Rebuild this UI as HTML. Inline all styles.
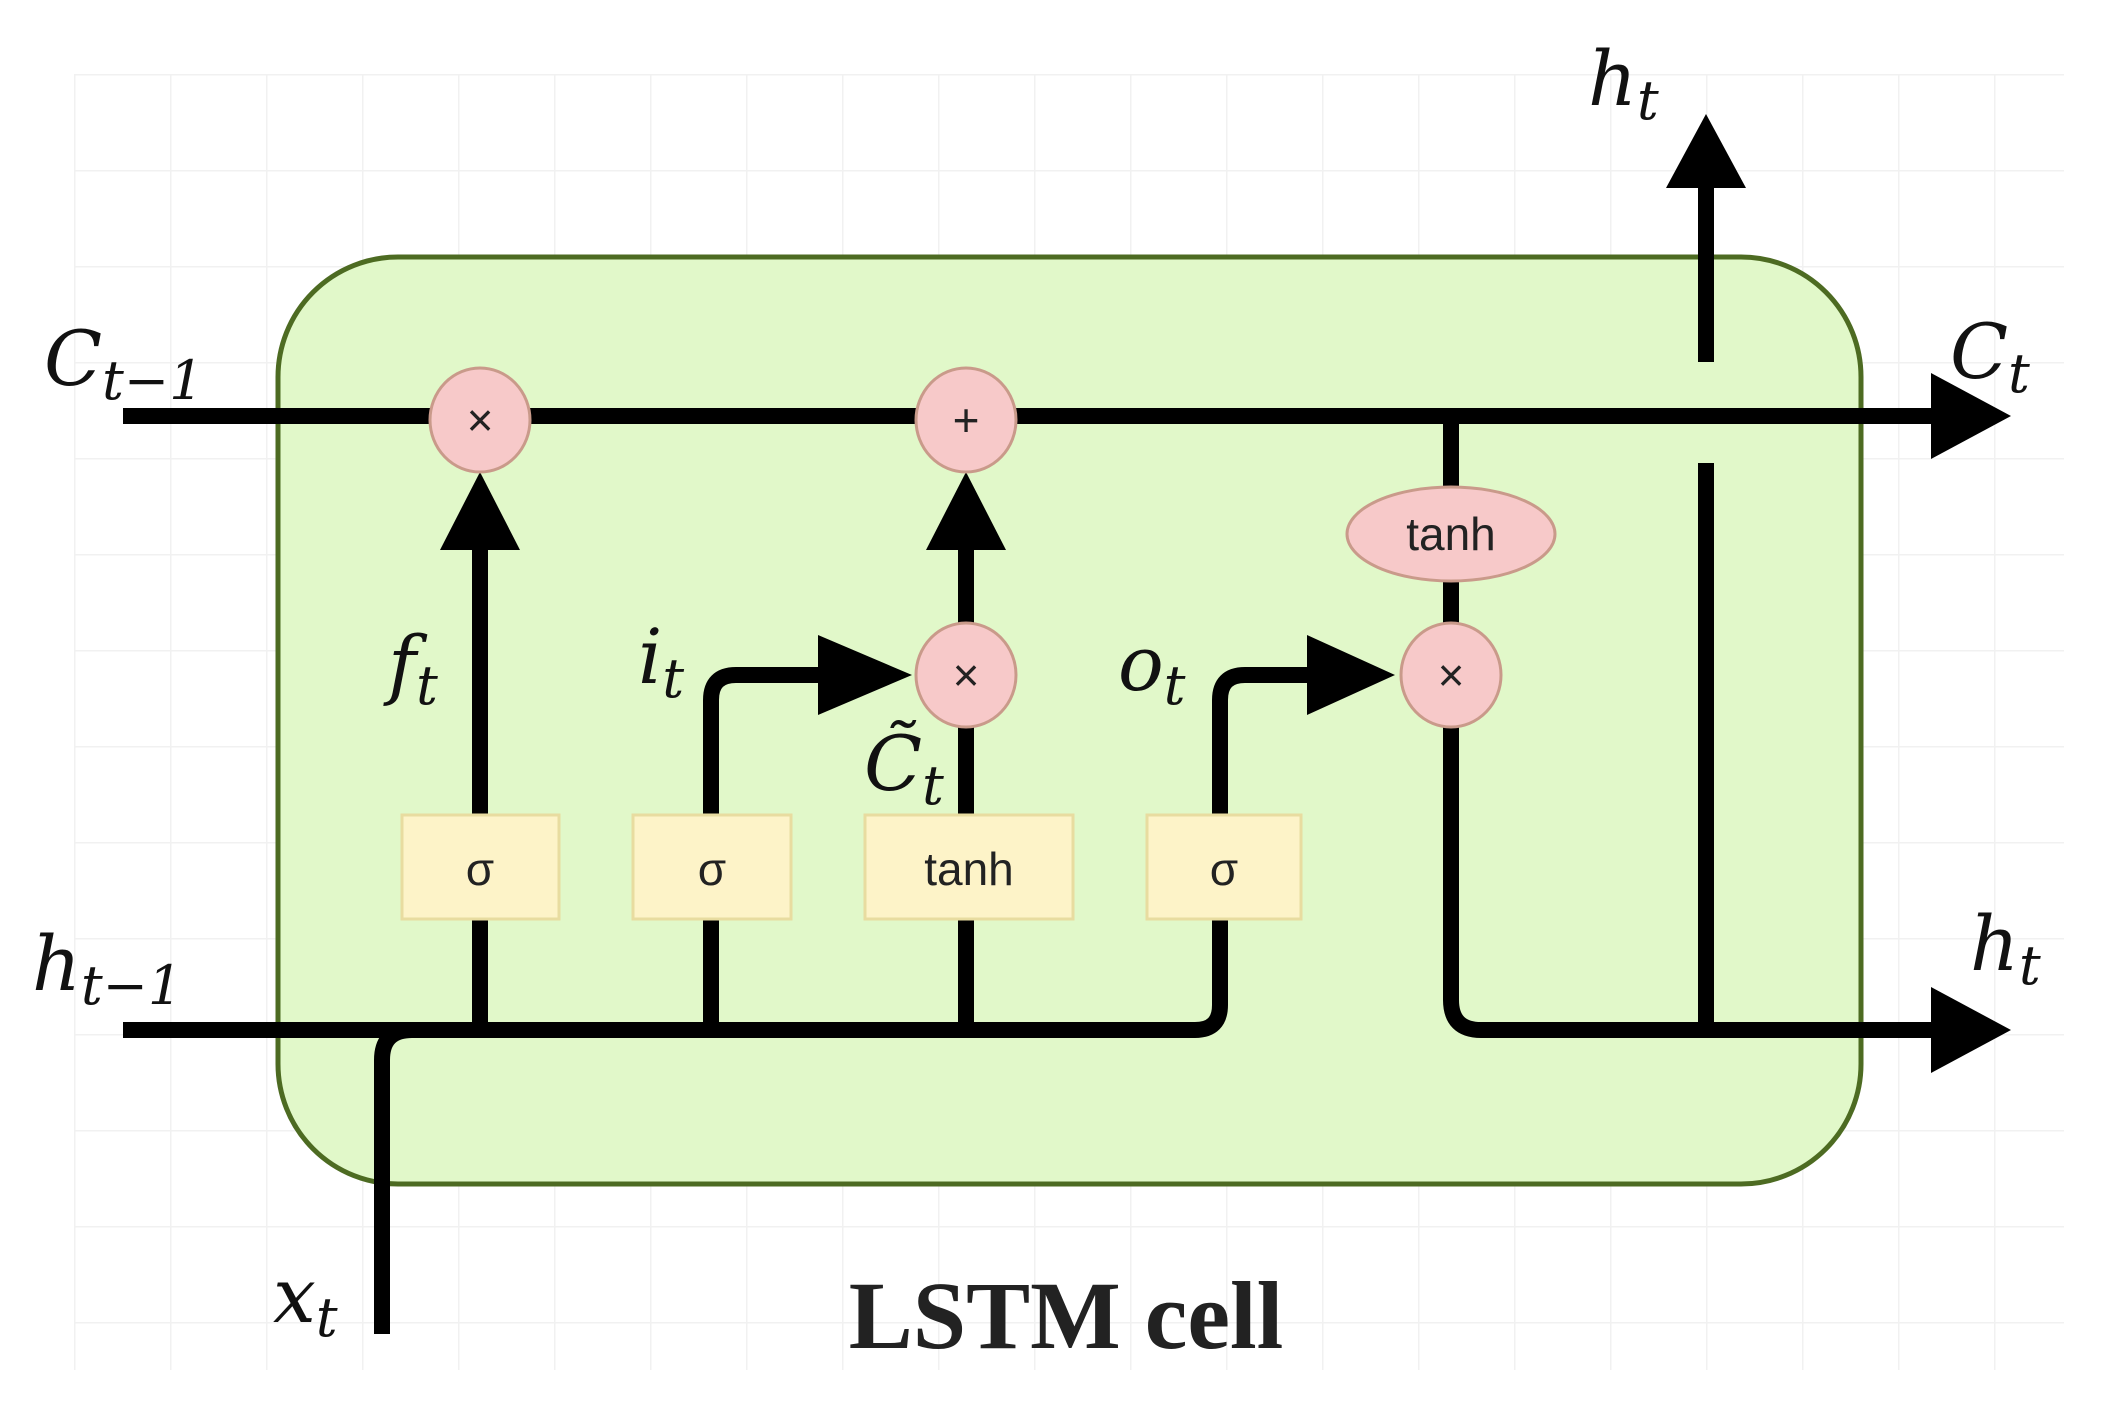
<!DOCTYPE html>
<html><head><meta charset="utf-8"><style>
html,body{margin:0;padding:0;background:#fff;}
svg{display:block;}
.m{font-family:"DejaVu Serif","Liberation Serif",serif;font-style:italic;fill:#111;}
.s{font-family:"Liberation Sans",sans-serif;fill:#222;}
</style></head><body>
<svg width="2103" height="1416" viewBox="0 0 2103 1416" xmlns="http://www.w3.org/2000/svg">
<defs>
<pattern id="g" width="96" height="96" patternUnits="userSpaceOnUse" x="74" y="74">
<path d="M0 0H96M0 0V96" stroke="#f1f1f1" stroke-width="3" fill="none"/>
</pattern>
</defs>
<rect x="74" y="74" width="1990" height="1296" fill="url(#g)"/>
<rect x="278" y="257" width="1583" height="927" rx="120" ry="120" fill="#e1f8c9" stroke="#4d6b22" stroke-width="5"/>

<g stroke="#000" stroke-width="16" fill="none" stroke-linecap="butt">
<line x1="123" y1="416" x2="1940" y2="416"/>
<path d="M123 1030 H1195 Q1220 1030 1220 1005 V700 Q1220 675 1245 675 H1320"/>
<path d="M382 1334 V1060 Q382 1030 412 1030"/>
<line x1="480" y1="1030" x2="480" y2="540"/>
<path d="M711 1030 V700 Q711 675 736 675 H830"/>
<line x1="966" y1="1030" x2="966" y2="700"/>
<line x1="966" y1="640" x2="966" y2="540"/>
<line x1="1451" y1="416" x2="1451" y2="510"/>
<line x1="1451" y1="570" x2="1451" y2="650"/>
<path d="M1451 700 V1000 Q1451 1030 1481 1030 H1940"/>
<path d="M1706 1030 V463"/>
<path d="M1706 362 V180"/>
</g>
<g fill="#000">
<polygon points="1931,373 2011,416 1931,459"/>
<polygon points="1931,987 2011,1030 1931,1073"/>
<polygon points="440,550 520,550 480,472"/>
<polygon points="926,550 1006,550 966,472"/>
<polygon points="1666,188 1746,188 1706,114"/>
<polygon points="818,635 818,715 912,675"/>
<polygon points="1307,635 1307,715 1395,675"/>
</g>

<g fill="#f7c9c9" stroke="#c99a8a" stroke-width="3">
<ellipse cx="480" cy="420" rx="50" ry="52"/>
<ellipse cx="966" cy="420" rx="50" ry="52"/>
<ellipse cx="966" cy="675" rx="50" ry="52"/>
<ellipse cx="1451" cy="675" rx="50" ry="52"/>
<ellipse cx="1451" cy="534" rx="104" ry="47"/>
</g>
<g class="s" font-size="46" text-anchor="middle">
<text x="480" y="436">×</text>
<text x="966" y="436">+</text>
<text x="966" y="691">×</text>
<text x="1451" y="691">×</text>
<text x="1451" y="550">tanh</text>
</g>

<g fill="#fdf3c8" stroke="#e8dca0" stroke-width="3">
<rect x="402" y="815" width="157" height="104"/>
<rect x="633" y="815" width="158" height="104"/>
<rect x="865" y="815" width="208" height="104"/>
<rect x="1147" y="815" width="154" height="104"/>
</g>
<g class="s" font-size="46" text-anchor="middle">
<text x="480" y="885">σ</text>
<text x="712" y="885">σ</text>
<text x="969" y="885">tanh</text>
<text x="1224" y="885">σ</text>
</g>

<g class="m" font-size="76">
<text x="44" y="385">C<tspan font-size="54" dy="14">t−1</tspan></text>
<text x="1950" y="378">C<tspan font-size="54" dy="14">t</tspan></text>
<text x="1588" y="105">h<tspan font-size="54" dy="14">t</tspan></text>
<text x="1970" y="970">h<tspan font-size="54" dy="14">t</tspan></text>
<text x="32" y="990">h<tspan font-size="54" dy="14">t−1</tspan></text>
<text x="388" y="690">f<tspan font-size="54" dy="14">t</tspan></text>
<text x="638" y="683">i<tspan font-size="54" dy="14">t</tspan></text>
<text x="1118" y="690">o<tspan font-size="54" dy="14">t</tspan></text>
<text x="864" y="790">C̃<tspan font-size="54" dy="14">t</tspan></text>
<text x="273" y="1322">x<tspan font-size="54" dy="14">t</tspan></text>
</g>
<text x="1066" y="1348" font-family="Liberation Serif,serif" font-weight="bold" font-size="96" text-anchor="middle" fill="#222">LSTM cell</text>
</svg>
</body></html>
